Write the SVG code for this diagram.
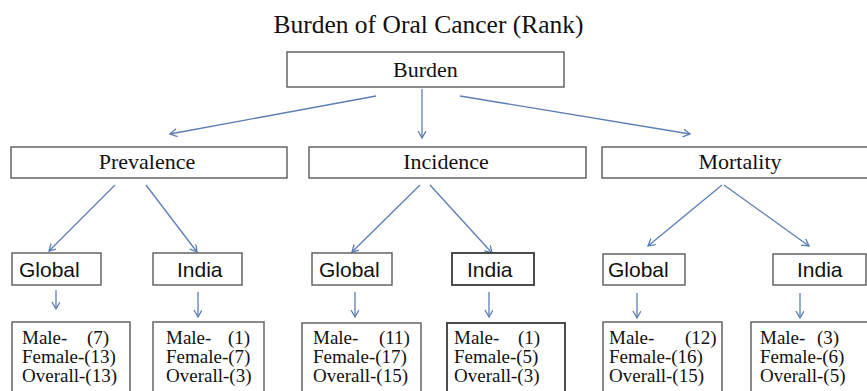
<svg xmlns="http://www.w3.org/2000/svg" width="867" height="391" viewBox="0 0 867 391">
<style>
.bg{fill:#ffffff}
.box{fill:#ffffff;stroke:#5a5a5a;stroke-width:1.4}
.dark{stroke:#3a3a3a;stroke-width:1.8}
.t{font-family:"Liberation Serif","Times New Roman",serif;fill:#111111}
.title{font-size:25.5px}
.l1{font-size:22px}
.l2{font-family:"Liberation Sans",Arial,sans-serif;font-size:21px;fill:#111111}
.l3{font-size:19px}
.c{text-anchor:middle}
.arr{stroke:#5b7db5;stroke-width:1.3;fill:none;marker-end:url(#ah)}
</style>
<defs>
<marker id="ah" markerUnits="userSpaceOnUse" markerWidth="12" markerHeight="12" refX="7" refY="4" orient="auto">
<path d="M0,0 L7,4 L0,8" fill="none" stroke="#5b7db5" stroke-width="1.3"/>
</marker>
</defs>
<rect class="bg" x="0" y="0" width="867" height="391"/>
<text class="t title c" x="428.5" y="33">Burden of Oral Cancer (Rank)</text>

<g id="connectors">
<line class="arr" x1="376" y1="96" x2="170" y2="134"/>
<line class="arr" x1="422" y1="89" x2="422" y2="138"/>
<line class="arr" x1="460" y1="96" x2="690" y2="134"/>
<line class="arr" x1="115" y1="185" x2="49" y2="251"/>
<line class="arr" x1="146" y1="185" x2="197" y2="252"/>
<line class="arr" x1="420" y1="185" x2="352" y2="252"/>
<line class="arr" x1="430" y1="185" x2="492" y2="253"/>
<line class="arr" x1="722" y1="185" x2="648" y2="246"/>
<line class="arr" x1="724" y1="185" x2="809" y2="246"/>
<line class="arr" x1="56" y1="290" x2="56" y2="309"/>
<line class="arr" x1="198" y1="292" x2="198" y2="317"/>
<line class="arr" x1="355" y1="292" x2="355" y2="317"/>
<line class="arr" x1="489" y1="292" x2="489" y2="317"/>
<line class="arr" x1="637" y1="293" x2="637" y2="318"/>
<line class="arr" x1="800" y1="293" x2="800" y2="318"/>
</g>

<g id="burden">
<rect class="box" x="287" y="52" width="277" height="35"/>
<text class="t l1 c" x="425.5" y="77">Burden</text>
</g>

<g id="prevalence">
<rect class="box" x="11" y="147" width="276" height="31"/>
<text class="t l1 c" x="147" y="169">Prevalence</text>
</g>
<g id="incidence">
<rect class="box" x="309" y="147" width="277" height="31"/>
<text class="t l1 c" x="446" y="169">Incidence</text>
</g>
<g id="mortality">
<rect class="box" x="602" y="147" width="270" height="31"/>
<text class="t l1 c" x="740" y="169">Mortality</text>
</g>

<g id="prev-global">
<rect class="box" x="12" y="253" width="89" height="32"/>
<text class="l2" x="19" y="277">Global</text>
</g>
<g id="prev-india">
<rect class="box" x="153" y="253" width="89" height="32"/>
<text class="l2" x="177" y="277">India</text>
</g>
<g id="inc-global">
<rect class="box" x="312" y="253" width="80" height="32"/>
<text class="l2" x="319" y="277">Global</text>
</g>
<g id="inc-india">
<rect class="box dark" x="452" y="253" width="82" height="32"/>
<text class="l2" x="467" y="277">India</text>
</g>
<g id="mort-global">
<rect class="box" x="603" y="254" width="82" height="31"/>
<text class="l2" x="608" y="277">Global</text>
</g>
<g id="mort-india">
<rect class="box" x="773" y="254" width="93" height="31"/>
<text class="l2" x="797" y="277">India</text>
</g>

<g id="prev-global-ranks">
<rect class="box" x="12" y="322" width="118" height="75"/>
<text class="t l3" x="22" y="344" xml:space="preserve">Male-    <tspan x="87">(7)</tspan></text>
<text class="t l3" x="22" y="363">Female-(13)</text>
<text class="t l3" x="22" y="382">Overall-(13)</text>
</g>
<g id="prev-india-ranks">
<rect class="box" x="153" y="322" width="111" height="75"/>
<text class="t l3" x="166" y="344" xml:space="preserve">Male-   <tspan x="228">(1)</tspan></text>
<text class="t l3" x="166" y="363">Female-(7)</text>
<text class="t l3" x="166" y="382">Overall-(3)</text>
</g>
<g id="inc-global-ranks">
<rect class="box" x="302" y="323" width="119" height="74"/>
<text class="t l3" x="313" y="344" xml:space="preserve">Male-    <tspan x="379">(11)</tspan></text>
<text class="t l3" x="313" y="363">Female-(17)</text>
<text class="t l3" x="313" y="382">Overall-(15)</text>
</g>
<g id="inc-india-ranks">
<rect class="box dark" x="447" y="323" width="118" height="74"/>
<text class="t l3" x="454" y="344" xml:space="preserve">Male-   <tspan x="518">(1)</tspan></text>
<text class="t l3" x="454" y="363">Female-(5)</text>
<text class="t l3" x="454" y="382">Overall-(3)</text>
</g>
<g id="mort-global-ranks">
<rect class="box" x="603" y="322" width="119" height="75"/>
<text class="t l3" x="609" y="344" xml:space="preserve">Male-    <tspan x="685">(12)</tspan></text>
<text class="t l3" x="609" y="363">Female-(16)</text>
<text class="t l3" x="609" y="382">Overall-(15)</text>
</g>
<g id="mort-india-ranks">
<rect class="box" x="751" y="322" width="120" height="75"/>
<text class="t l3" x="760" y="344" xml:space="preserve">Male-  <tspan x="817">(3)</tspan></text>
<text class="t l3" x="760" y="363">Female-(6)</text>
<text class="t l3" x="760" y="382">Overall-(5)</text>
</g>
</svg>
